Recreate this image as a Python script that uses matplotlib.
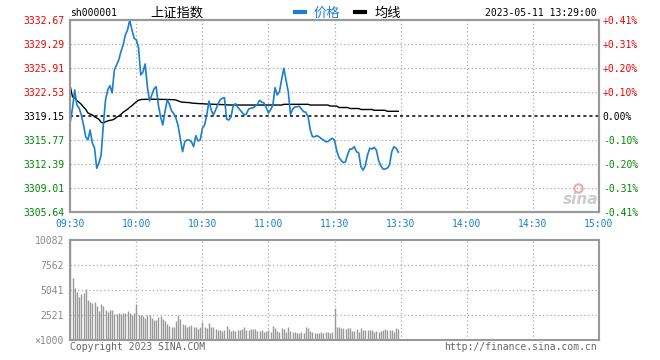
import matplotlib.pyplot as plt
from matplotlib.lines import Line2D
import numpy as np

plt.rcParams['font.family'] = ['DejaVu Sans Mono', 'Noto Sans CJK SC']

prev_close = 3319.15

# minute prices 09:30 .. 11:30, 13:01 .. 13:29
price = [3318.35, 3320.28, 3322.82, 3320.70, 3320.28, 3319.30, 3317.89, 3316.24, 3315.78, 3317.18,
         3315.35, 3314.65, 3311.80, 3312.54, 3313.66, 3317.89, 3321.41, 3322.82, 3323.42, 3322.39,
         3325.63, 3326.34, 3327.04, 3328.21, 3329.15, 3330.56, 3331.26, 3332.67, 3331.26, 3330.09,
         3329.85, 3328.73, 3324.93, 3325.35, 3326.48, 3323.28, 3321.27, 3322.11, 3322.96, 3323.28,
         3320.70, 3319.06, 3317.89, 3319.76, 3321.41, 3320.84, 3319.86, 3319.48, 3318.83, 3317.75,
         3315.88, 3314.13, 3315.54, 3315.78, 3315.78, 3315.54, 3314.83, 3316.38, 3315.64, 3315.78,
         3317.42, 3317.89, 3319.30, 3321.27, 3320.00, 3319.30, 3320.00, 3320.80, 3321.41, 3321.65,
         3321.73, 3318.73, 3318.59, 3319.06, 3320.61, 3320.89, 3320.42, 3320.04, 3319.68, 3319.30,
         3319.44, 3320.14, 3320.24, 3320.32, 3320.52, 3320.80, 3321.37, 3321.08, 3320.99, 3320.32,
         3319.58, 3320.04, 3320.70, 3323.14, 3322.11, 3322.58, 3324.32, 3325.87, 3324.18, 3322.58,
         3319.39, 3320.10, 3320.46, 3320.46, 3320.52, 3320.14, 3319.76, 3319.68, 3319.06, 3317.18,
         3316.24, 3316.24, 3316.38, 3316.24, 3315.96, 3315.78, 3315.54, 3315.54, 3315.82, 3316.02,
         3315.78, 3314.27, 3313.34, 3312.92, 3312.58, 3312.72, 3313.76, 3314.51, 3314.51, 3314.83,
         3314.13, 3313.95, 3312.02, 3311.55, 3312.16, 3313.66, 3314.61, 3314.51, 3314.75, 3314.37,
         3312.92, 3312.16, 3311.69, 3311.69, 3311.83, 3312.26, 3314.13, 3314.83, 3314.61, 3314.05]

avg_line = [3323.28, 3321.87, 3321.65, 3321.31, 3321.08, 3320.80, 3320.42, 3320.10, 3319.58, 3319.44,
            3319.30, 3319.06, 3318.87, 3318.69, 3318.27, 3318.17, 3318.35, 3318.45, 3318.55, 3318.59,
            3318.73, 3318.97, 3319.15, 3319.39, 3319.68, 3319.90, 3320.10, 3320.38, 3320.61, 3320.89,
            3321.17, 3321.37, 3321.47, 3321.49, 3321.50, 3321.51, 3321.51, 3321.52, 3321.52, 3321.51,
            3321.50, 3321.50, 3321.49, 3321.49, 3321.48, 3321.47, 3321.46, 3321.45, 3321.41, 3321.27,
            3321.17, 3321.10, 3321.08, 3321.06, 3321.04, 3320.98, 3320.95, 3320.93, 3320.91, 3320.89,
            3320.86, 3320.85, 3320.84, 3320.83, 3320.83, 3320.82, 3320.79, 3320.78, 3320.77, 3320.76,
            3320.75, 3320.72, 3320.71, 3320.71, 3320.70, 3320.70, 3320.70, 3320.70, 3320.70, 3320.70,
            3320.70, 3320.70, 3320.70, 3320.70, 3320.70, 3320.70, 3320.70, 3320.70, 3320.70, 3320.70,
            3320.70, 3320.70, 3320.70, 3320.70, 3320.70, 3320.70, 3320.70, 3320.80, 3320.80, 3320.80,
            3320.80, 3320.80, 3320.80, 3320.80, 3320.80, 3320.80, 3320.80, 3320.80, 3320.80, 3320.70,
            3320.70, 3320.70, 3320.70, 3320.70, 3320.70, 3320.70, 3320.70, 3320.70, 3320.56, 3320.56,
            3320.56, 3320.56, 3320.35, 3320.35, 3320.35, 3320.35, 3320.35, 3320.21, 3320.21, 3320.21,
            3320.21, 3320.21, 3320.07, 3320.07, 3320.07, 3320.07, 3320.07, 3320.07, 3319.96, 3319.96,
            3319.96, 3319.96, 3319.96, 3319.96, 3319.82, 3319.82, 3319.82, 3319.82, 3319.82, 3319.82]

# volume, thousands of lots
volume = [10082, 6281, 5212, 4870, 4366, 4638, 4769, 5142, 4033, 3861,
          3700, 3861, 3458, 2954, 3630, 3428, 3025, 2853, 3025, 3025,
          2621, 2621, 2752, 2621, 2752, 2752, 2954, 2692, 2521, 2752,
          3630, 2521, 2521, 2420, 2188, 2521, 2521, 2188, 2016, 2016,
          2289, 2420, 2087, 1946, 1613, 1411, 1280, 1350, 1946, 2521,
          2087, 1613, 1512, 1280, 1411, 1512, 1280, 1280, 1079, 1340,
          1845, 1344, 1176, 1680, 1277, 1277, 1079, 1008, 1008, 940,
          1008, 1412, 1075, 940, 1008, 940, 1008, 1008, 1075, 1277,
          1008, 1008, 1109, 1109, 1109, 940, 940, 1008, 840, 940,
          1008, 840, 1412, 1176, 940, 840, 1176, 1109, 840, 1277,
          940, 840, 840, 740, 740, 840, 740, 1277, 1176, 940,
          840, 740, 740, 740, 840, 740, 840, 840, 740, 840,
          3193, 1277, 1277, 1176, 1176, 1075, 1176, 1176, 940, 940,
          1075, 840, 1176, 1008, 1008, 1008, 1008, 1008, 840, 940,
          840, 940, 1008, 1075, 1008, 1008, 1008, 840, 1176, 1075]

time_ticks = [0, 30, 60, 90, 120, 150, 180, 210, 240]
time_labels = ['09:30', '10:00', '10:30', '11:00', '11:30', '13:30', '14:00', '14:30', '15:00']
price_ticks = [3305.64, 3309.01, 3312.39, 3315.77, 3319.15, 3322.53, 3325.91, 3329.29, 3332.67]
pct_labels = ['-0.41%', '-0.31%', '-0.20%', '-0.10%', '0.00%', '+0.10%', '+0.20%', '+0.31%', '+0.41%']
vol_ticks = [0, 2521, 5041, 7562, 10082]
vol_labels = ['\u00d71000', '2521', '5041', '7562', '10082']

RED = '#ee0000'
GREEN = '#008800'
BLUE = '#1a7fd0'
FRAME = '#999999'
GRID = '#aaaaaa'

fig = plt.figure(figsize=(6.6, 3.6), dpi=100)
ax = fig.add_axes([70.3/660, 1-212/360, 528.4/660, 192/360])
axv = fig.add_axes([70.3/660, 1-340/360, 528.4/660, 100/360])

x = np.arange(len(price))

# price panel
for p in price_ticks[1:-1]:
    if p == prev_close:
        ax.axhline(p, color='black', lw=1.1, ls=(0, (2, 2)), zorder=1)
    else:
        ax.axhline(p, color=GRID, lw=0.9, ls=(0, (1, 2)), zorder=1)
for t in time_ticks[1:-1]:
    ax.axvline(t, color=GRID, lw=0.9, ls=(0, (1, 2)), zorder=1)

ax.plot(x, avg_line, color='black', lw=1.0, zorder=3)
ax.plot(x, price, color=BLUE, lw=1.2, zorder=4)

ax.set_xlim(0, 240)
ax.set_ylim(price_ticks[0], price_ticks[-1])
ax.set_xticks(time_ticks)
ax.set_xticklabels(time_labels, color=BLUE, fontsize=7)
ax.set_yticks(price_ticks)
ax.set_yticklabels(['%.2f' % p for p in price_ticks], fontsize=7)
for lab, p in zip(ax.get_yticklabels(), price_ticks):
    lab.set_color(RED if p > prev_close else (GREEN if p < prev_close else 'black'))
ax.tick_params(axis='both', length=0)
ax.tick_params(axis='y', pad=4.5)
ax.tick_params(axis='x', pad=5)

ax2 = ax.twinx()
ax2.set_ylim(price_ticks[0], price_ticks[-1])
ax2.set_yticks(price_ticks)
ax2.set_yticklabels(pct_labels, fontsize=7)
for lab, p in zip(ax2.get_yticklabels(), price_ticks):
    lab.set_color(RED if p > prev_close else (GREEN if p < prev_close else 'black'))
ax2.tick_params(axis='y', length=0, pad=3)

for a in (ax, ax2, axv):
    for s in a.spines.values():
        s.set_color(FRAME)
        s.set_linewidth(1.5)

# volume panel
for v in vol_ticks[1:-1]:
    axv.axhline(v, color=GRID, lw=0.9, ls=(0, (1, 2)), zorder=1)
for t in time_ticks[1:-1]:
    axv.axvline(t, color=GRID, lw=0.9, ls=(0, (1, 2)), zorder=1)
axv.vlines(x, 0, volume, color='#999999', lw=1.0, zorder=3)
axv.set_xlim(0, 240)
axv.set_ylim(0, vol_ticks[-1])
axv.set_xticks(time_ticks)
axv.set_xticklabels([])
axv.set_yticks(vol_ticks)
axv.set_yticklabels(vol_labels, fontsize=7, color='#888888')
axv.tick_params(axis='both', length=0)
axv.tick_params(axis='y', pad=4.5)

# header
fig.text(70/660, 1-13/360, 'sh000001', fontsize=7, va='center', ha='left')
fig.text(150/660, 1-13/360, '上证指数', fontsize=9.5, va='center', ha='left',
         family=['Noto Sans CJK SC'])
fig.add_artist(Line2D([295/660, 305/660], [1-12/360, 1-12/360], color=BLUE, lw=3))
fig.text(314/660, 1-13/360, '价格', fontsize=9.5, va='center', ha='left', color=BLUE,
         family=['Noto Sans CJK SC'])
fig.add_artist(Line2D([355/660, 365/660], [1-12/360, 1-12/360], color='black', lw=3))
fig.text(375/660, 1-13/360, '均线', fontsize=9.5, va='center', ha='left',
         family=['Noto Sans CJK SC'])
fig.text(597/660, 1-13/360, '2023-05-11 13:29:00', fontsize=7, va='center', ha='right')

# footer
fig.text(70/660, 1-347/360, 'Copyright 2023 SINA.COM', fontsize=7, va='center', ha='left',
         color='#666666')
fig.text(597/660, 1-347/360, 'http://finance.sina.com.cn', fontsize=7, va='center', ha='right',
         color='#666666')

# watermark
fig.text(581/660, 1-199/360, 'sina', fontsize=11, fontweight='bold', style='italic',
         color='#cccccc', ha='center', va='center', family=['DejaVu Sans'])
fig.add_artist(Line2D([578/660], [1-188/360], marker='o', ms=6, mfc='none', mec='#f0a8a8', mew=1.5))

fig.savefig('out.png', dpi=100)
